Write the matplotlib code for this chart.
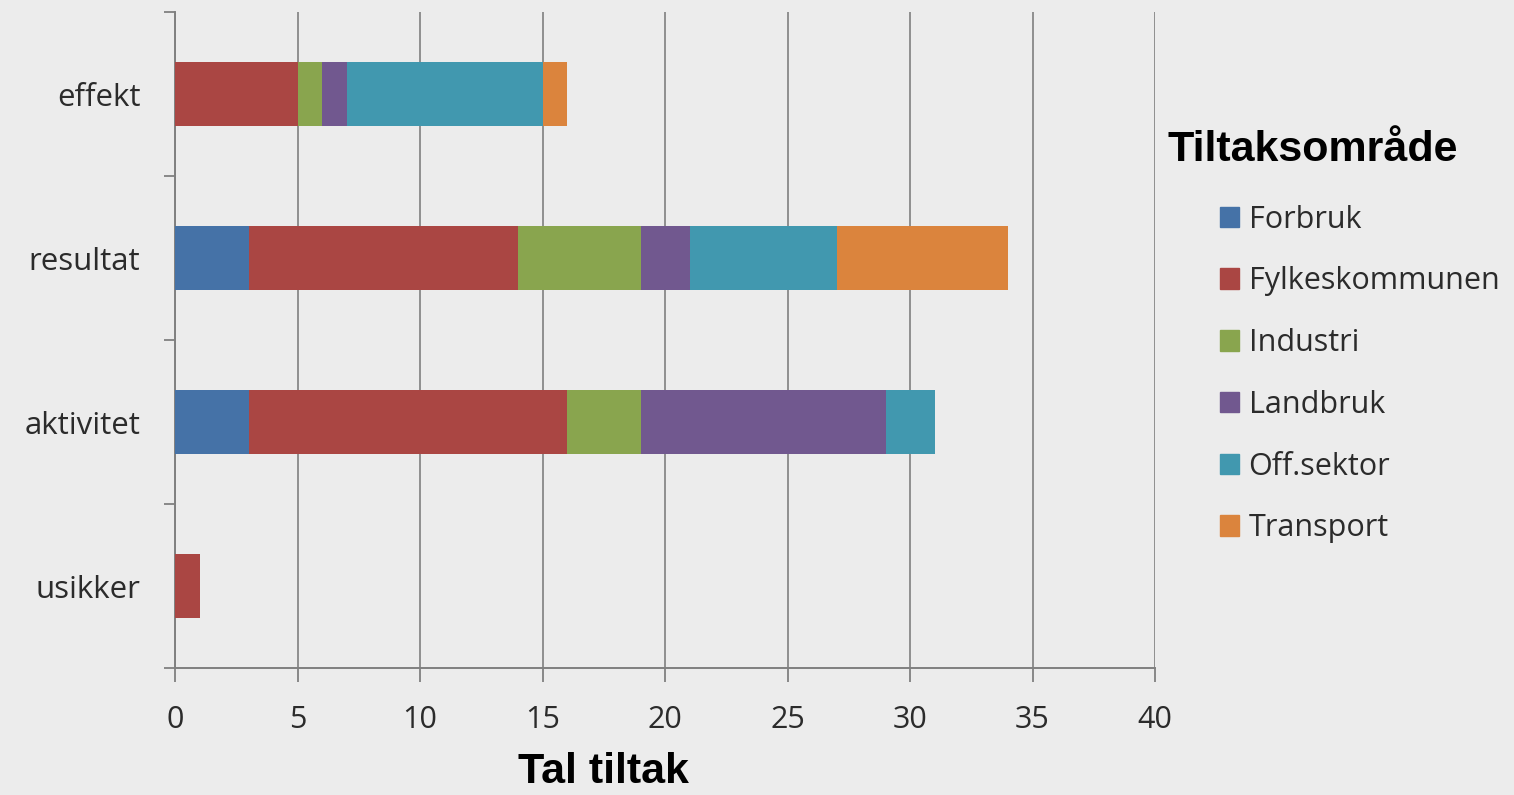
import matplotlib
matplotlib.use("Agg")
import matplotlib.pyplot as plt
from matplotlib.patches import Patch
import numpy as np

# data
categories = ["effekt", "resultat", "aktivitet", "usikker"]
series_names = ["Forbruk", "Fylkeskommunen", "Industri", "Landbruk", "Off.sektor", "Transport"]
forbruk = [0, 3, 3, 0]
fylkeskommunen = [5, 11, 13, 1]
industri = [1, 5, 3, 0]
landbruk = [1, 2, 10, 0]
off_sektor = [8, 6, 2, 0]
transport = [1, 7, 0, 0]
series_values = [forbruk, fylkeskommunen, industri, landbruk, off_sektor, transport]
x_ticks = [0, 5, 10, 15, 20, 25, 30, 35, 40]

colors = ["#4572a7", "#aa4643", "#89a54e", "#71588f", "#4198af", "#db843d"]
bg = "#ececec"
label_font = ["Open Sans", "DejaVu Sans"]

fig = plt.figure(figsize=(15.14, 7.95), dpi=100)
fig.patch.set_facecolor(bg)
ax = fig.add_axes([175 / 1514, 1 - 668 / 795, 980 / 1514, 656 / 795])
ax.set_facecolor(bg)

y = np.arange(len(categories))
left = np.zeros(len(categories))
for name, vals, col in zip(series_names, series_values, colors):
    vals = np.array(vals, dtype=float)
    ax.barh(y, vals, left=left, height=0.39, color=col, label=name, zorder=3)
    left += vals

ax.set_ylim(len(categories) - 0.5, -0.5)
ax.set_xlim(0, 40)
ax.set_xticks(x_ticks)
ax.set_xticklabels([str(t) for t in x_ticks], fontsize=22, family=label_font, color="#2b2b2b")
ax.set_yticks(y)
ax.set_yticklabels(categories, fontsize=22.5, family=label_font, color="#2b2b2b")
ax.set_yticks(np.arange(len(categories) + 1) - 0.5, minor=True)

ax.tick_params(axis="y", which="major", length=0, pad=25)
ax.tick_params(axis="y", which="minor", length=8, width=1.3, color="#808080", direction="out")
ax.tick_params(axis="x", which="major", length=10, width=1.3, color="#808080", direction="out", pad=17)

ax.grid(axis="x", color="#8f8f8f", linewidth=1.4, zorder=0)
for s in ["top", "right"]:
    ax.spines[s].set_visible(False)
for s in ["left", "bottom"]:
    ax.spines[s].set_color("#808080")
    ax.spines[s].set_linewidth(1.4)

fig.text(603 / 1514, 1 - 772 / 795, "Tal tiltak", ha="center", va="center",
         fontsize=31, fontweight="bold", family="Liberation Sans")
fig.text(1168 / 1514, 1 - 150 / 795, "Tiltaksområde", ha="left", va="center",
         fontsize=31, fontweight="bold", family="Liberation Sans")

handles = [Patch(color=c, label=n) for n, c in zip(series_names, colors)]
leg = fig.legend(handles=handles, loc="upper left", bbox_to_anchor=(1192 / 1514, 1 - 177 / 795),
                 frameon=False, prop={"family": label_font, "size": 22},
                 handlelength=0.65, handleheight=0.65, handletextpad=0.3, labelspacing=1.04)
for t in leg.get_texts():
    t.set_color("#2b2b2b")

fig.savefig("out.png", dpi=100, facecolor=bg)
